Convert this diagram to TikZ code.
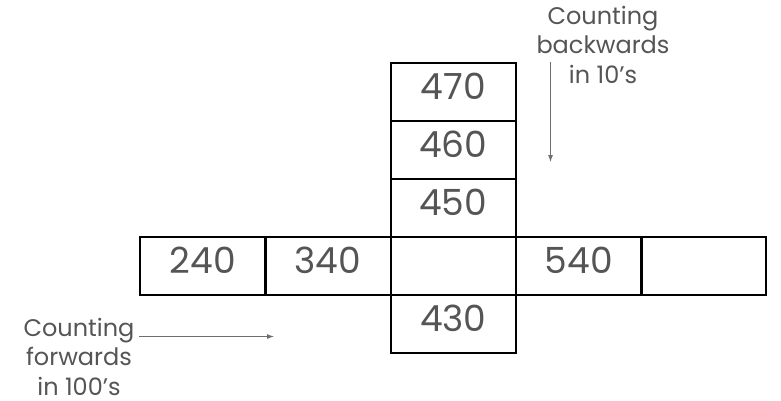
\documentclass[tikz,border=0pt]{standalone}
\usepackage{fontspec}
\setmainfont{Poppins}
\usetikzlibrary{arrows.meta}
\definecolor{txtgray}{HTML}{555555}
\definecolor{arrgray}{HTML}{6E6E6E}
\begin{document}
\begin{tikzpicture}[x=1pt,y=-1pt,
  cell/.style={draw=black,line width=2pt,minimum width=125.5pt,minimum height=58pt,
    inner sep=0pt,anchor=north west,text=txtgray,font=\fontsize{36}{40}\selectfont,
    text height=26pt,text depth=12pt},
  lbl/.style={text=txtgray,font=\fontsize{24}{29.5}\selectfont,align=center,inner sep=0pt},
  arr/.style={draw=arrgray,line width=0.9pt,-{Latex[length=7pt,width=5pt]}}]
\useasboundingbox (0,0) rectangle (781,400);
% vertical column
\node[cell] (c470) at (389.5,62) {470};
\node[cell] (c460) at (389.5,120) {460};
\node[cell] (c450) at (389.5,178) {450};
\node[cell] (c430) at (389.5,294) {430};
% horizontal row
\node[cell] (c240) at (139,236) {240};
\node[cell] (c340) at (264,236) {340};
\node[cell] (cmid) at (389.5,236) {};
\node[cell] (c540) at (515,236) {540};
\node[cell] (cend) at (639.5,236) {};
% labels
\node[lbl,anchor=base] (lfwd) at (79,395) {Counting\\forwards\\in 100’s};
\node[lbl,anchor=base] (lbwd) at (603,83) {Counting\\backwards\\in 10’s};
% arrows
\coordinate (fs) at (139,336.5);
\coordinate (fe) at (274,336.5);
\coordinate (bs) at (550.5,62);
\coordinate (be) at (550.5,162);
\draw[arr] (fs) -- (fe);
\draw[arr] (bs) -- (be);
\end{tikzpicture}
\end{document}
